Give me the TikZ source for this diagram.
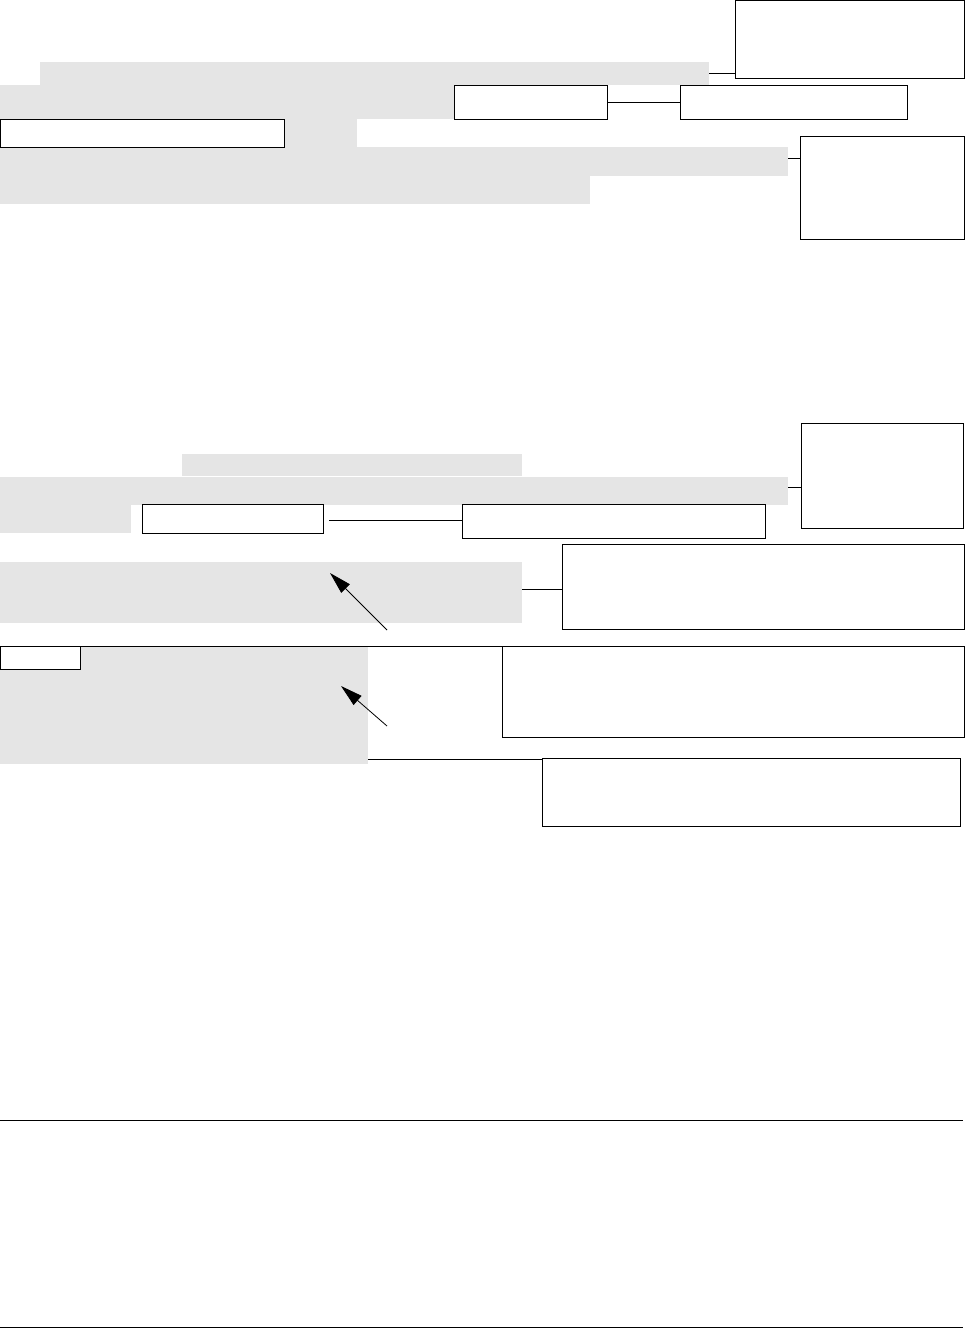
\documentclass[tikz,border=0pt]{standalone}
\usepackage{tikz}
\usetikzlibrary{arrows.meta}

\begin{document}
\begin{tikzpicture}[
    x=1pt, y=-1pt,
    block/.style={rectangle, draw, fill=white, line width=1pt, anchor=north west, inner sep=0pt, outer sep=0pt},
    shade/.style={rectangle, fill=black!10, anchor=north west, inner sep=0pt, outer sep=0pt},
    link/.style={line width=1pt},
    arrow/.style={-{Triangle[length=22pt, width=12pt]}, line width=0.8pt}
]
\useasboundingbox (0,0) rectangle (965,1328);

% shaded text blocks
\node[shade, minimum width=669pt, minimum height=23pt] (g1) at (40,62) {};
\node[shade, minimum width=454pt, minimum height=34pt] (g2) at (0,85) {};
\node[shade, minimum width=357pt, minimum height=28pt] (g3) at (0,119) {};
\node[shade, minimum width=788pt, minimum height=29pt] (g4) at (0,147) {};
\node[shade, minimum width=590pt, minimum height=28pt] (g5) at (0,176) {};
\node[shade, minimum width=340pt, minimum height=22pt] (g6) at (182,454) {};
\node[shade, minimum width=788pt, minimum height=28pt] (g7) at (0,477) {};
\node[shade, minimum width=131pt, minimum height=28pt] (g8) at (0,505) {};
\node[shade, minimum width=522pt, minimum height=61pt] (g9) at (0,562) {};
\node[shade, minimum width=368pt, minimum height=118pt] (g10) at (0,646) {};

% boxes
\node[block, minimum width=229pt, minimum height=78pt] (note1) at (735,0.5) {};
\node[block, minimum width=153pt, minimum height=34pt] (boxB) at (454,85) {};
\node[block, minimum width=227pt, minimum height=34pt] (boxC) at (680,85) {};
\node[block, minimum width=284pt, minimum height=28pt] (boxD) at (0.5,119) {};
\node[block, minimum width=164pt, minimum height=103pt] (note2) at (800,136) {};
\node[block, minimum width=162pt, minimum height=105pt] (note3) at (801,423) {};
\node[block, minimum width=181pt, minimum height=29pt] (boxG) at (142,504) {};
\node[block, minimum width=303pt, minimum height=34pt] (boxH) at (462,504) {};
\node[block, minimum width=402pt, minimum height=85pt] (note4) at (562,544) {};
\node[block, minimum width=80pt, minimum height=23pt] (boxK) at (0.5,646) {};
\node[block, minimum width=462pt, minimum height=91pt] (note5) at (502,646) {};
\node[block, minimum width=418pt, minimum height=68pt] (note6) at (542,758) {};

% connectors
\draw[link] (g1.east) -- (g1.east -| note1.west);
\draw[link] (boxB) -- (boxC);
\draw[link] ([yshift=-11pt]g4.north east) -- ([yshift=-11pt]g4.north east -| note2.west);
\draw[link] ([yshift=-10pt]g7.north east) -- ([yshift=-10pt]g7.north east -| note3.west);
\draw[link] ([xshift=6pt,yshift=-2pt]boxG.east) -- ([yshift=-2pt]boxG.east -| boxH.west);
\draw[link] ([yshift=-27pt]g9.north east) -- ([yshift=-27pt]g9.north east -| note4.west);
\draw[link] (boxK.north east) -- (note5.north west);
\draw[link] ([yshift=5pt]g10.south east) -- ([yshift=5pt]g10.south east -| note6.west);

% pointers
\coordinate (tail1) at (387,630);
\coordinate (tip1) at (330,573);
\coordinate (tail2) at (387,726);
\coordinate (tip2) at (341,686);
\draw[arrow] (tail1) -- (tip1);
\draw[arrow] (tail2) -- (tip2);

% rules
\coordinate (rule1a) at (0,1120);
\coordinate (rule1b) at (963,1120);
\coordinate (rule2a) at (0,1327);
\coordinate (rule2b) at (963,1327);
\draw[link] (rule1a) -- (rule1b);
\draw[link] (rule2a) -- (rule2b);
\end{tikzpicture}
\end{document}
